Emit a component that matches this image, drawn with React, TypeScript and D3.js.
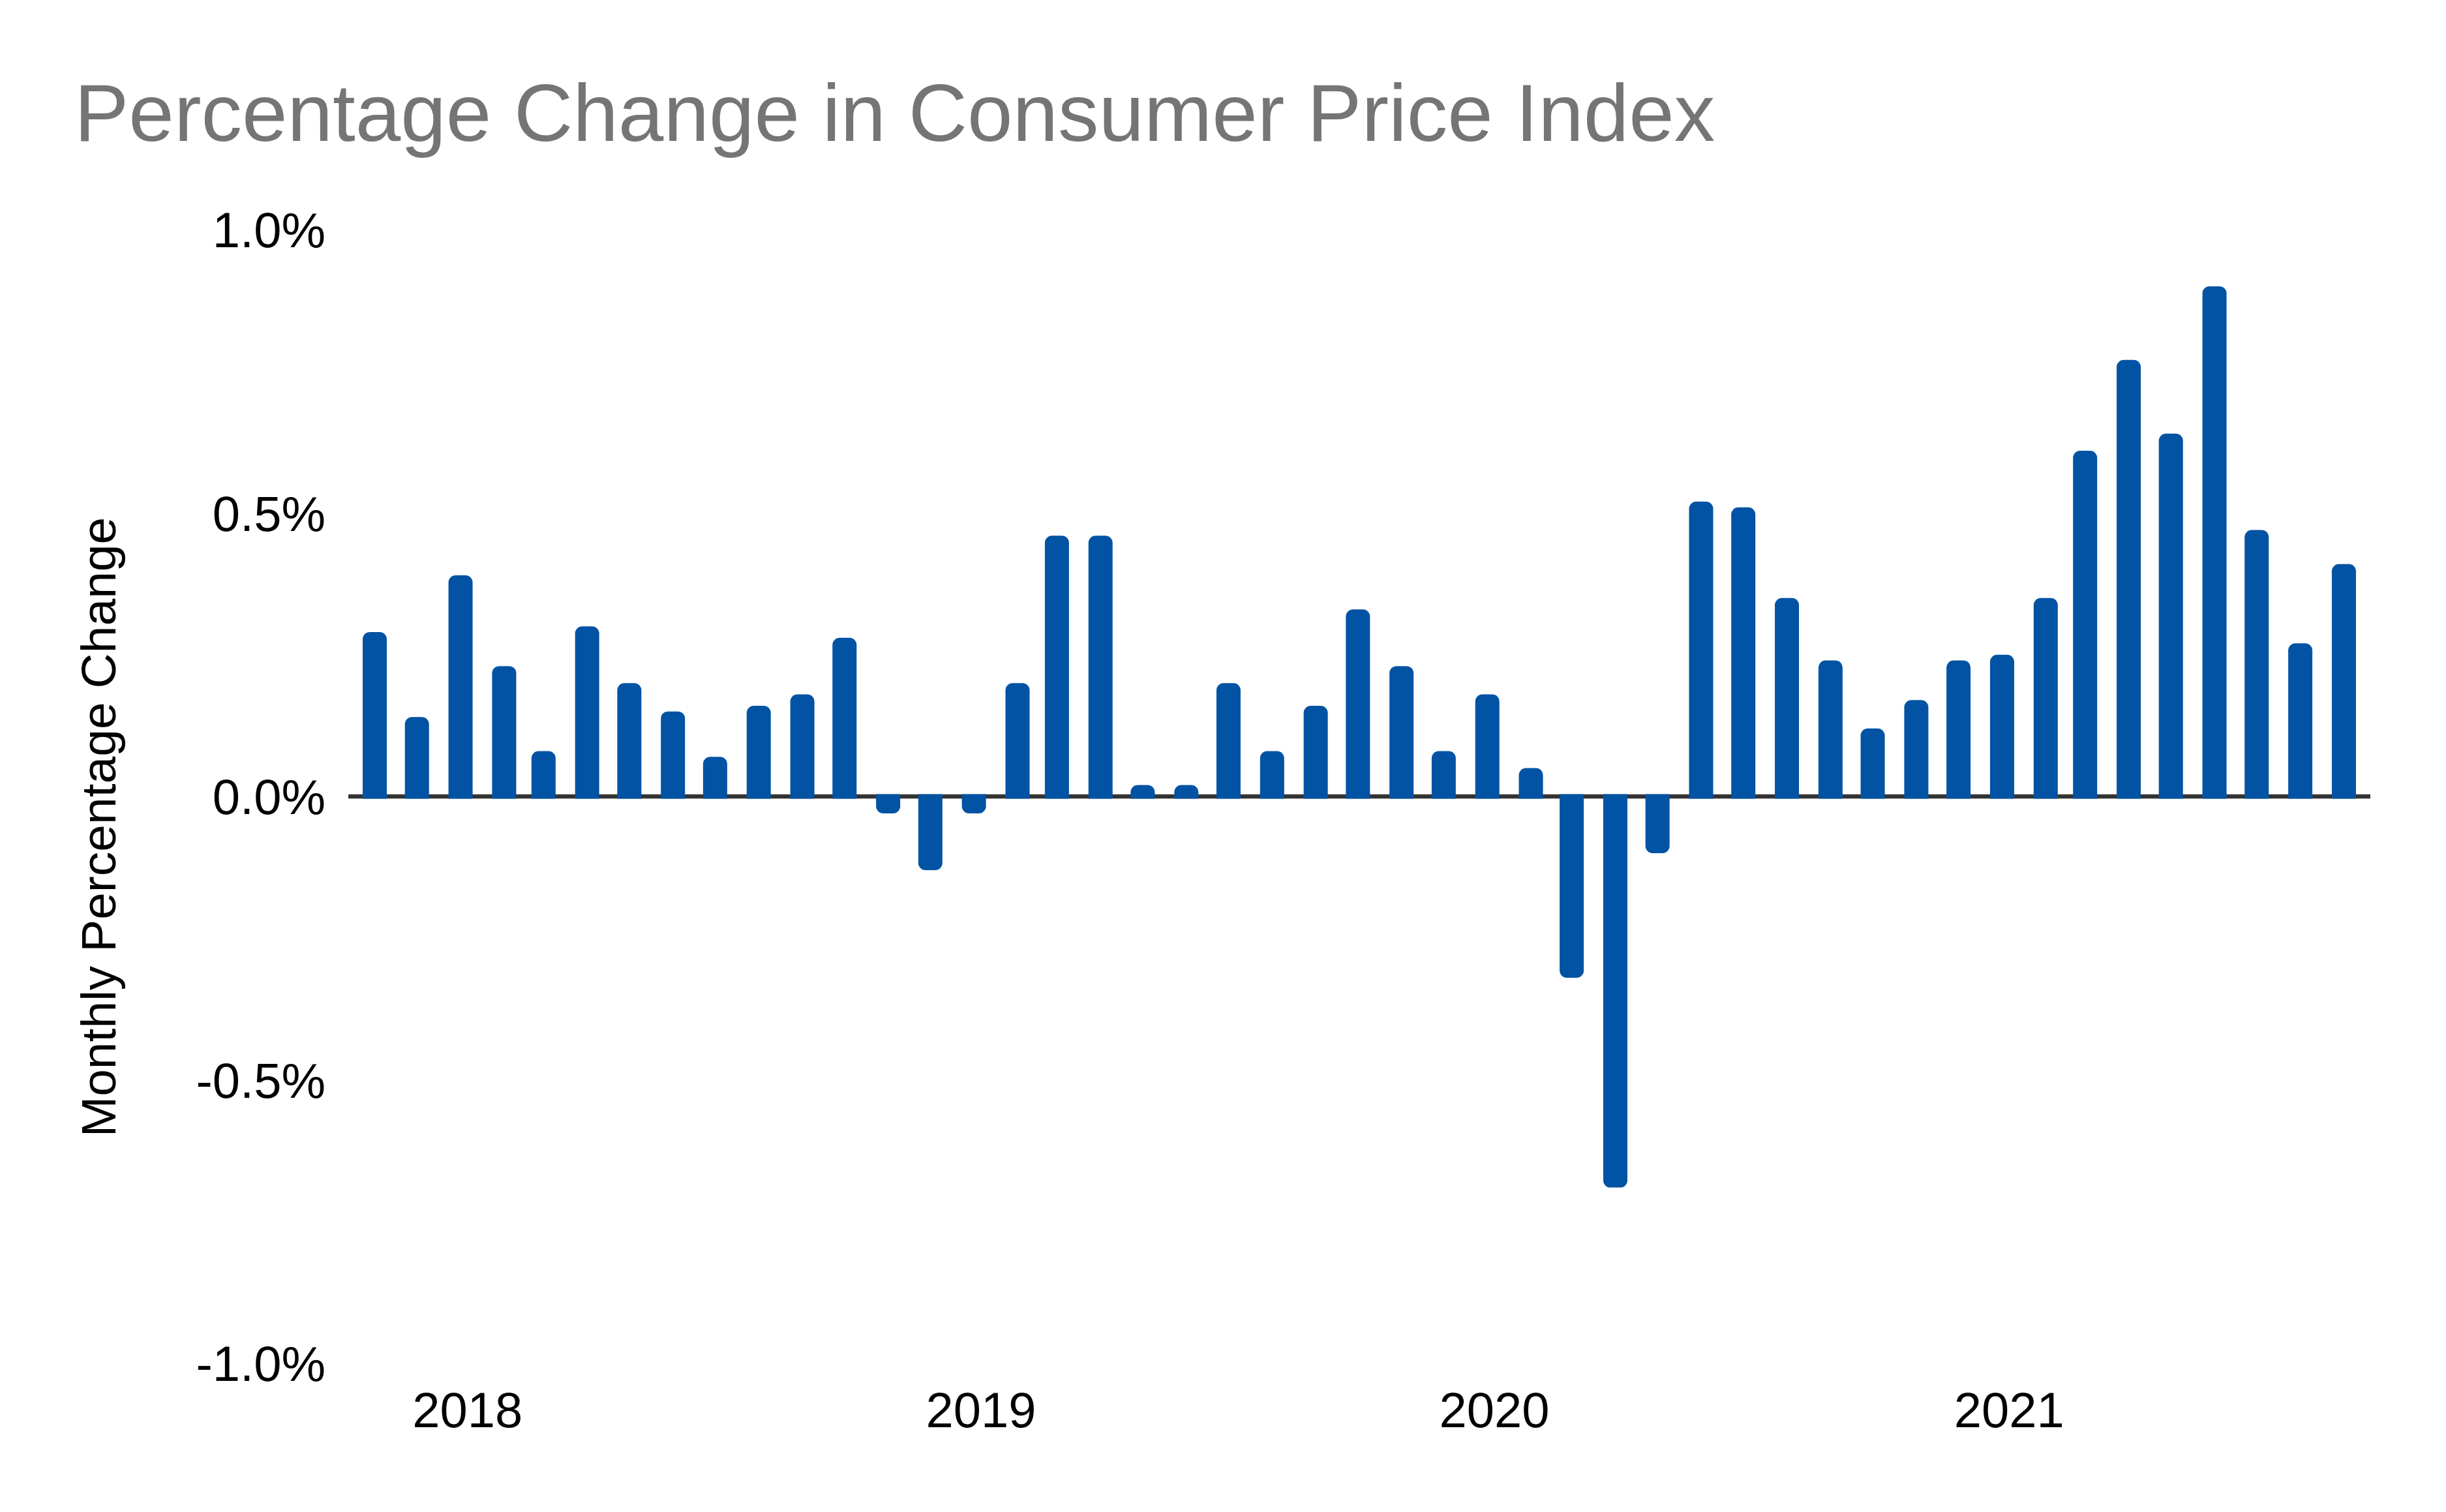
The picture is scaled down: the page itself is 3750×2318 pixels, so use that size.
import React, { useEffect } from 'react';
import * as d3 from 'd3';

const WIDTH = 3750;
const HEIGHT = 2318;

// monthly % change in CPI, Nov 2017 .. Sep 2021
const firstMonth = new Date(Date.UTC(2017, 10, 1));
const cpiChange = [
  0.29, 0.14,
  0.39, 0.23, 0.08, 0.30, 0.20, 0.15, 0.07, 0.16, 0.18, 0.28, -0.03, -0.13,
  -0.03, 0.20, 0.46, 0.46, 0.02, 0.02, 0.20, 0.08, 0.16, 0.33, 0.23, 0.08,
  0.18, 0.05, -0.32, -0.69, -0.10, 0.52, 0.51, 0.35, 0.24, 0.12, 0.17, 0.24,
  0.25, 0.35, 0.61, 0.77, 0.64, 0.90, 0.47, 0.27, 0.41,
];
const months = d3.utcMonth.range(firstMonth, d3.utcMonth.offset(firstMonth, cpiChange.length));
const yearTicks = [2018, 2019, 2020, 2021];
const percentTicks = [-1, -0.5, 0, 0.5, 1];

const title = 'Percentage Change in Consumer Price Index';
const yTitle = 'Monthly Percentage Change';

const FONT = '"Liberation Sans", Arial, Helvetica, sans-serif';
const BAR_COLOR = '#0353a4';

const plot = { left: 534, right: 3634, top: 352, bottom: 2090 };
const DAY = 24 * 3600 * 1000;
const padMs = 18.8 * DAY;
const barHalf = 18.5;

const App: React.FC = () => {
  useEffect(() => {
    document.body.style.margin = '0';
  }, []);

  const x = d3.scaleUtc()
    .domain([+months[0] - padMs, +months[months.length - 1] + padMs])
    .range([plot.left, plot.right]);
  const y = d3.scaleLinear().domain([-1, 1]).range([plot.bottom, plot.top]);
  const y0 = y(0);

  const barPath = (d: Date, v: number) => {
    const cx = x(d);
    const x0 = cx - barHalf;
    const x1 = cx + barHalf;
    const y1 = y(v);
    const h = Math.abs(y1 - y0);
    const r = Math.min(11, h, barHalf);
    if (v >= 0) {
      const base = y0 + 3.5;
      return `M${x0},${base}V${y1 + r}A${r},${r} 0 0 1 ${x0 + r},${y1}H${x1 - r}A${r},${r} 0 0 1 ${x1},${y1 + r}V${base}Z`;
    }
    const base = y0 - 3.5;
    return `M${x0},${base}V${y1 - r}A${r},${r} 0 0 0 ${x0 + r},${y1}H${x1 - r}A${r},${r} 0 0 0 ${x1},${y1 - r}V${base}Z`;
  };

  const fmt = (t: number) => `${t.toFixed(1)}%`;

  return (
    <svg width={WIDTH} height={HEIGHT} style={{ display: 'block', position: 'absolute', left: 0, top: 0 }}
      fontFamily={FONT}>
      <rect width={WIDTH} height={HEIGHT} fill="#fff" />
      <text x={114} y={216} fontSize={125} fill="#757575">{title}</text>

      {/* y tick labels */}
      {percentTicks.map(t => (
        <text key={t} x={499} y={y(t) + 27} fontSize={76} textAnchor="end" fill="#000">{fmt(t)}</text>
      ))}

      {/* x tick labels */}
      {yearTicks.map(yr => (
        <text key={yr} x={x(d3.utcDay.offset(new Date(Date.UTC(yr, 0, 1)), 5))} y={2188}
          fontSize={76} textAnchor="middle" fill="#000">{yr}</text>
      ))}

      <text transform={`translate(177,1268) rotate(-90)`} fontSize={75} textAnchor="middle" fill="#000">{yTitle}</text>

      <line x1={plot.left} x2={plot.right} y1={y0} y2={y0} stroke="#333" strokeWidth={6.5} />

      {months.map((d, i) => (
        <path key={i} d={barPath(d, cpiChange[i])} fill={BAR_COLOR} />
      ))}
    </svg>
  );
};

export default App;
